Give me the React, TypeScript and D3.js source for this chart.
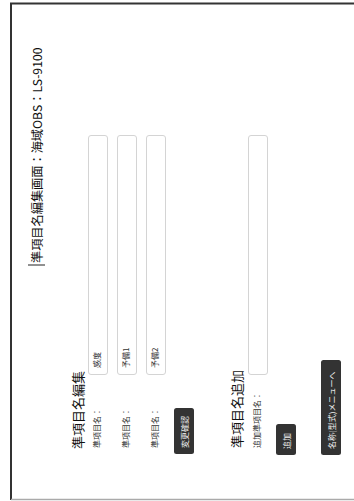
import React from "react";
import * as d3 from "d3";

const W = 354;
const H = 501;

const titleText = "準項目名編集画面：海域OBS：LS-9100";
const editHeader = "準項目名編集";
const addHeader = "準項目名追加";
const itemLabels = ["準項目名：", "準項目名：", "準項目名："];
const itemValues = ["感度", "予備1", "予備2"];
const addLabel = "追加準項目名：";
const confirmButton = "変更確認";
const addButton = "追加";
const menuButton = "名称(型式)メニューへ";

const FONT = "'Noto Sans CJK JP', 'Noto Sans', sans-serif";

export default function App() {
  // unrotated layout: u = horizontal (0..501), v = vertical (0..354)
  const rowScale = d3
    .scaleBand<number>()
    .domain(itemValues.map((_, i) => i))
    .range([88, 166])
    .paddingInner(9 / 29)
    .paddingOuter(0);
  const inputU = d3.scaleLinear().domain([0, 1]).range([126, 366]);
  const bw = rowScale.bandwidth();

  const button = (label: string, u0: number, u1: number, v0: number, key: string) => (
    <g key={key}>
      <rect x={u0} y={v0} width={u1 - u0} height={20} rx={2.5} fill="#333" />
      <text
        x={u0 + 6}
        y={v0 + 10}
        dominantBaseline="central"
        fontSize={8}
        fill="#eee"
        fontFamily={FONT}
      >
        {label}
      </text>
    </g>
  );

  return (
    <div style={{ position: "fixed", left: 0, top: 0, width: W, height: H, background: "#fff" }}>
      <svg width={W} height={H} style={{ display: "block" }}>
        <rect width={W} height={H} fill="#fff" />
        {/* frame */}
        <line x1={10} x2={W} y1={3.5} y2={3.5} stroke="#333" strokeWidth={2} />
        <line x1={11} x2={11} y1={3} y2={500} stroke="#333" strokeWidth={2} />
        <line x1={11} x2={W} y1={499.5} y2={499.5} stroke="#aaa" strokeWidth={1.5} />
        <g transform={`translate(0,${H}) rotate(-90)`}>
          {/* caret */}
          <line x1={236} x2={236} y1={28} y2={45} stroke="#222" strokeWidth={1} />
          <text x={238} y={37} dominantBaseline="central" fontSize={12.2} fill="#111" fontFamily={FONT}>
            {titleText}
          </text>
          <text x={52} y={77.5} dominantBaseline="central" fontSize={13} fill="#111" fontFamily={FONT}>
            {editHeader}
          </text>
          {itemValues.map((val, i) => {
            const v0 = rowScale(i) as number;
            return (
              <g key={i}>
                <text x={53} y={v0 + bw / 2 - 1.5} dominantBaseline="central" fontSize={8} fill="#333" fontFamily={FONT}>
                  {itemLabels[i]}
                </text>
                <rect
                  x={inputU(0) + 0.5}
                  y={v0 + 0.5}
                  width={inputU(1) - inputU(0) - 1}
                  height={bw - 1}
                  rx={2.5}
                  fill="#fff"
                  stroke="#d4d4d4"
                  strokeWidth={1}
                />
                <text x={inputU(0) + 7} y={v0 + bw / 2 - 1.5} dominantBaseline="central" fontSize={8} fill="#333" fontFamily={FONT}>
                  {val}
                </text>
              </g>
            );
          })}
          {button(confirmButton, 47, 93, 174, "b1")}
          <text x={53} y={236} dominantBaseline="central" fontSize={13} fill="#111" fontFamily={FONT}>
            {addHeader}
          </text>
          <text x={53} y={256} dominantBaseline="central" fontSize={8} fill="#333" fontFamily={FONT}>
            {addLabel}
          </text>
          <rect
            x={inputU(0) + 0.5}
            y={248.5}
            width={inputU(1) - inputU(0) - 1}
            height={bw - 1}
            rx={2.5}
            fill="#fff"
            stroke="#d4d4d4"
            strokeWidth={1}
          />
          {button(addButton, 46, 77, 276, "b2")}
          {button(menuButton, 46, 141, 321, "b3")}
        </g>
      </svg>
    </div>
  );
}
